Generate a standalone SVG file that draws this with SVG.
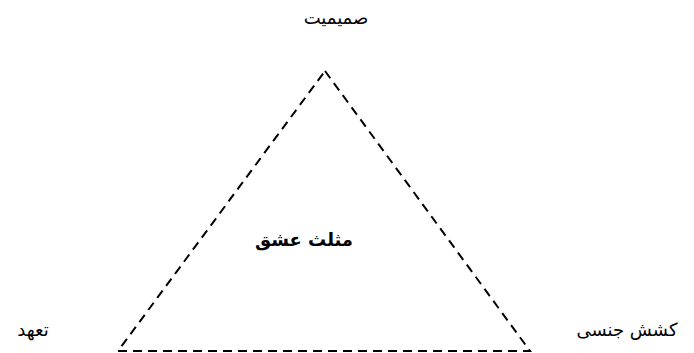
<svg xmlns="http://www.w3.org/2000/svg" width="694" height="353" viewBox="0 0 694 353">
<style>
.lbl{font-family:"DejaVu Sans","Noto Sans",sans-serif;font-size:18px;fill:#000;text-anchor:middle;direction:rtl}
.ttl{font-family:"DejaVu Sans","Noto Sans",sans-serif;font-size:18px;font-weight:bold;fill:#000;text-anchor:middle;direction:rtl}
.edge{stroke:#000;stroke-width:2;stroke-dasharray:9,6;fill:none}
</style>
<rect width="694" height="353" fill="#fff"/>
<g id="connectors">
<polygon class="edge" points="325,71 530,351 118,351"/>
</g>
<g id="intimacy"><text class="lbl" x="336" y="24">صمیمیت</text></g>
<g id="title"><text class="ttl" x="304" y="246">مثلث عشق</text></g>
<g id="commitment"><text class="lbl" x="33" y="336">تعهد</text></g>
<g id="passion"><text class="lbl" x="627" y="336">کشش جنسی</text></g>
</svg>
